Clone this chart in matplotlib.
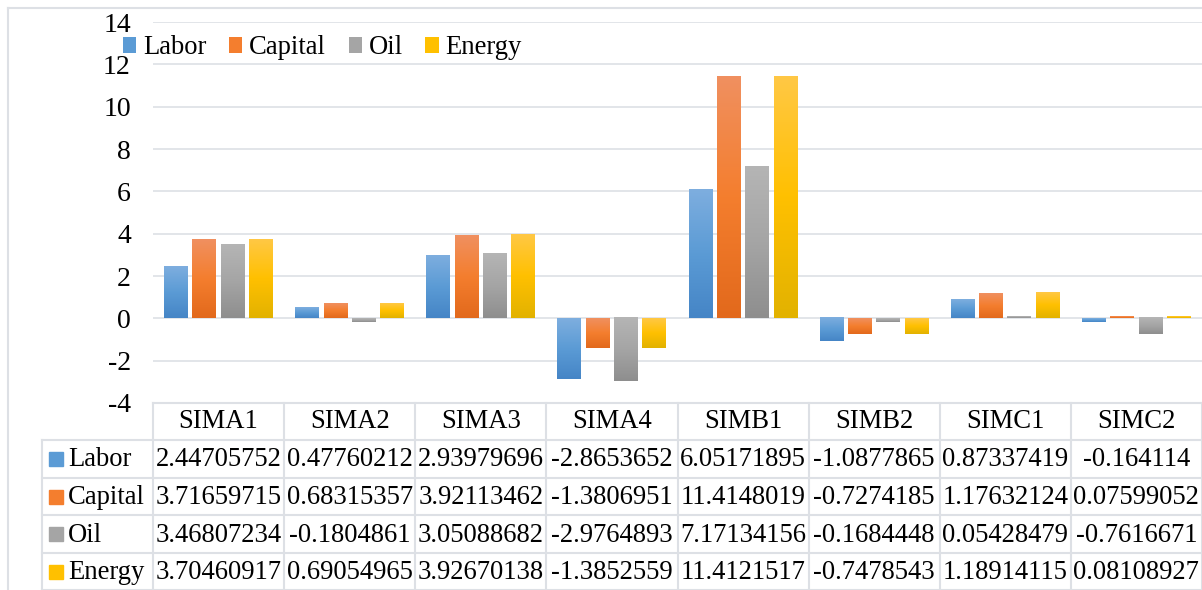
import matplotlib
matplotlib.use('Agg')
import matplotlib.pyplot as plt
import matplotlib.transforms as transforms
from matplotlib.colors import to_rgb
import numpy as np

categories = ['SIMA1', 'SIMA2', 'SIMA3', 'SIMA4', 'SIMB1', 'SIMB2', 'SIMC1', 'SIMC2']
series_names = ['Labor', 'Capital', 'Oil', 'Energy']
labor = [2.44705752, 0.47760212, 2.93979696, -2.8653652, 6.05171895, -1.0877865, 0.87337419, -0.164114]
capital = [3.71659715, 0.68315357, 3.92113462, -1.3806951, 11.4148019, -0.7274185, 1.17632124, 0.07599052]
oil = [3.46807234, -0.1804861, 3.05088682, -2.9764893, 7.17134156, -0.1684448, 0.05428479, -0.7616671]
energy = [3.70460917, 0.69054965, 3.92670138, -1.3852559, 11.4121517, -0.7478543, 1.18914115, 0.08108927]
labor_txt = ['2.44705752', '0.47760212', '2.93979696', '-2.8653652', '6.05171895', '-1.0877865', '0.87337419', '-0.164114']
capital_txt = ['3.71659715', '0.68315357', '3.92113462', '-1.3806951', '11.4148019', '-0.7274185', '1.17632124', '0.07599052']
oil_txt = ['3.46807234', '-0.1804861', '3.05088682', '-2.9764893', '7.17134156', '-0.1684448', '0.05428479', '-0.7616671']
energy_txt = ['3.70460917', '0.69054965', '3.92670138', '-1.3852559', '11.4121517', '-0.7478543', '1.18914115', '0.08108927']

# top tint, base, bottom shade
colors = {
    'Labor': ['#7EAEDF', '#5B9BD5', '#4585C6'],
    'Capital': ['#F09060', '#F47E2E', '#E2691C'],
    'Oil': ['#B5B5B5', '#A5A5A5', '#8E8E8E'],
    'Energy': ['#FFC845', '#FFC000', '#E2B200'],
}
values = [labor, capital, oil, energy]
texts = [labor_txt, capital_txt, oil_txt, energy_txt]

plt.rcParams['font.family'] = 'Liberation Serif'
plt.rcParams['axes.unicode_minus'] = False
W, H = 1202, 590
fs = 19.2
fig = plt.figure(figsize=(W / 100, H / 100), dpi=100)

def fy(py):
    return 1 - py / H

def fx(px):
    return px / W

ax = fig.add_axes([fx(153), fy(403), 1 - fx(153), fy(22) - fy(403)])
ax.set_xlim(-0.5, len(categories) - 0.5)
ax.set_ylim(-4, 14)
ax.set_yticks(np.arange(-4, 15, 2))
ax.set_xticks([])
for s in ax.spines.values():
    s.set_visible(False)
ax.tick_params(axis='y', length=0, labelsize=20, pad=16)
ax.grid(axis='y', color='#DDE0E5', linewidth=1.2)
ax.set_axisbelow(True)

x = np.arange(len(categories))
w = 0.183
step = 0.216
grad = np.linspace(0, 1, 256)

def gradient(cols):
    c0, c1, c2 = [np.array(to_rgb(c)) for c in cols]
    out = np.zeros((256, 1, 3))
    for i, t in enumerate(grad):
        if t < 0.5:
            out[i, 0] = c0 + (c1 - c0) * (t / 0.5)
        else:
            out[i, 0] = c1 + (c2 - c1) * ((t - 0.5) / 0.5)
    return out

handles = []
for k, name in enumerate(series_names):
    offs = (k - 1.5) * step
    bars = ax.bar(x + offs, values[k], width=w, color=colors[name][1], zorder=2)
    img = gradient(colors[name])
    for b in bars:
        x0 = b.get_x()
        y0 = b.get_y()
        h = b.get_height()
        top = max(y0, y0 + h)
        bot = min(y0, y0 + h)
        ax.imshow(img, extent=[x0, x0 + b.get_width(), bot, top], aspect='auto',
                  origin='upper', zorder=3)
    handles.append(bars)

ax.set_xlim(-0.5, len(categories) - 0.5)
ax.set_ylim(-4, 14)

fig.legend(handles, series_names, loc='center left', bbox_to_anchor=(fx(123), fy(48)),
           ncol=4, frameon=False, fontsize=fs, handlelength=0.5, handleheight=0.5,
           handletextpad=0.25, columnspacing=0.85, borderaxespad=0, borderpad=0)

# data table
lc = '#DDE0E5'
bt = transforms.blended_transform_factory(ax.transData, fig.transFigure)
row_edges = [403, 440, 478, 515, 553, 590]
fig.add_artist(plt.Line2D([fx(153), 1], [fy(403), fy(403)], color=lc, lw=1.5))
for py in row_edges[1:]:
    fig.add_artist(plt.Line2D([fx(42), 1], [fy(py), fy(py)], color=lc, lw=1.5))
fig.add_artist(plt.Line2D([fx(42), fx(42)], [fy(440), 0], color=lc, lw=1.5))
fig.add_artist(plt.Line2D([fx(153), fx(153)], [fy(403), 0], color=lc, lw=1.5))
for i in range(len(categories)):
    fig.add_artist(plt.Line2D([i + 0.5, i + 0.5], [fy(403), 0], color=lc, lw=1.5,
                              transform=bt))
    fig.text(i, fy(422), categories[i], transform=bt, ha='center', va='center', fontsize=fs)

for k, name in enumerate(series_names):
    cy = (row_edges[k + 1] + row_edges[k + 2]) / 2
    fig.patches.append(plt.Rectangle((fx(49), fy(cy + 7)), 14 / W, 14 / H,
                                     color=colors[name][1], transform=fig.transFigure,
                                     figure=fig))
    fig.text(fx(68), fy(cy + 1), name, ha='left', va='center', fontsize=fs)
    for i in range(len(categories)):
        fig.text(i, fy(cy + 1), texts[k][i], transform=bt, ha='center', va='center',
                 fontsize=fs)

# outer border
fig.add_artist(plt.Line2D([fx(8), 1], [fy(8), fy(8)], color=lc, lw=1.5))
fig.add_artist(plt.Line2D([fx(8), fx(8)], [fy(8), 0], color=lc, lw=1.5))

plt.savefig('out.png', dpi=100)
plt.close()
